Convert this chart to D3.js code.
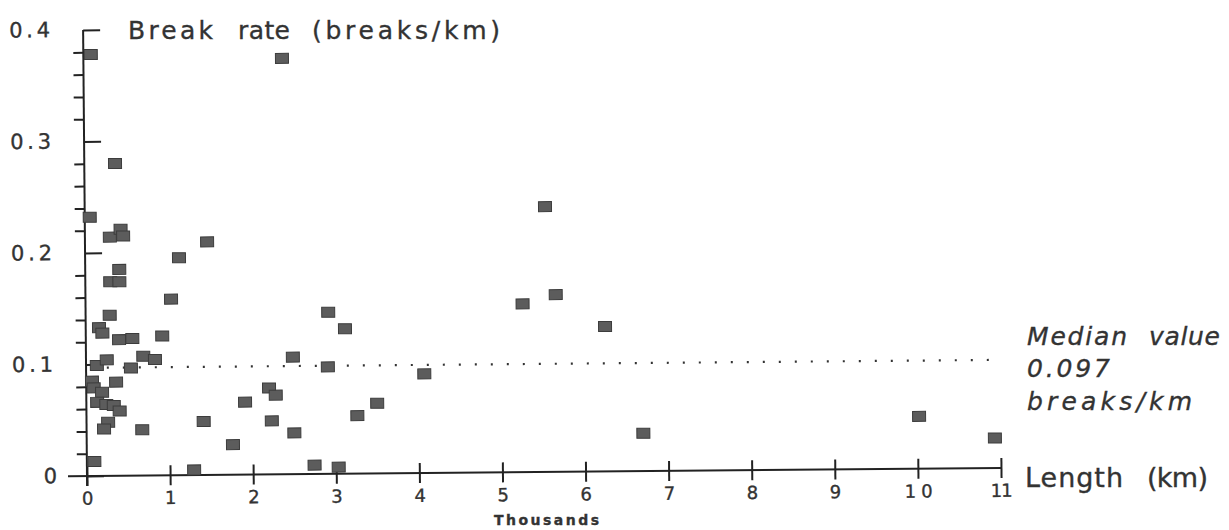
<!DOCTYPE html>
<html lang="en">
<head>
<meta charset="UTF-8">
<title>Break rate vs length</title>
<script src="https://d3js.org/d3.v7.min.js"></script>
<style>
  body { margin: 0; background: #fff; }
  text, .tick text { font-family: "DejaVu Sans", "Liberation Sans", sans-serif; fill: #333; stroke: #333; stroke-width: 0.35px; }
</style>
</head>
<body>
<svg width="1229" height="530"></svg>
<script>
// pipe length (thousands of km) and break rate (breaks/km)
const lengths = [
  0.09, 2.39, 0.37, 0.06, 0.30, 0.43, 0.46, 1.47, 1.13, 0.41,
  0.30, 0.41, 1.03, 0.29, 0.16, 0.20, 0.40, 0.56, 0.92, 2.49,
  0.13, 0.25, 0.54, 0.69, 0.83, 0.07, 0.09, 0.19, 0.36, 0.13,
  0.24, 0.33, 0.40, 0.26, 0.21, 0.67, 0.09, 1.29, 1.41, 1.76,
  1.91, 2.20, 2.28, 2.23, 2.50, 2.74, 3.03, 2.92, 3.12, 2.91,
  3.26, 3.50, 4.07, 5.26, 5.54, 5.66, 6.25, 6.70, 10.02, 10.93
];
const rates = [
  0.378, 0.373, 0.280, 0.232, 0.214, 0.221, 0.215, 0.209, 0.195, 0.185,
  0.174, 0.174, 0.158, 0.144, 0.133, 0.128, 0.122, 0.123, 0.125, 0.105,
  0.099, 0.104, 0.0965, 0.107, 0.104, 0.085, 0.079, 0.075, 0.084, 0.066,
  0.064, 0.063, 0.058, 0.048, 0.042, 0.041, 0.013, 0.0046, 0.048, 0.027,
  0.065, 0.0775, 0.071, 0.048, 0.037, 0.008, 0.006, 0.145, 0.130, 0.096,
  0.052, 0.063, 0.089, 0.151, 0.238, 0.159, 0.130, 0.034, 0.047, 0.027
];
const median = 0.097;
const medianFrom = 0.25, medianTo = 10.94;

const xTicks = d3.range(0, 12);
const yMajor = [0, 0.1, 0.2, 0.3, 0.4];
const yMinor = d3.range(0.02, 0.4, 0.02).filter(v => Math.abs(v * 10 - Math.round(v * 10)) > 1e-6);

const svg = d3.select("svg");
const x = d3.scaleLinear().domain([0, 11]).range([87, 1001]);
const y = d3.scaleLinear().domain([0, 0.4]).range([476, 30]);

// the scan is tilted a little, so the plot is too
const g = svg.append("g").attr("transform", `rotate(-0.5, ${x(0)}, ${y(0)})`);

// x axis
g.append("line")
  .attr("x1", x(0) - 19).attr("x2", x(11))
  .attr("y1", y(0)).attr("y2", y(0))
  .attr("stroke", "#222").attr("stroke-width", 2);

const xAxis = g.append("g")
  .attr("transform", `translate(0,${y(0)})`)
  .call(d3.axisBottom(x).tickValues(xTicks).tickSize(10).tickSizeOuter(0).tickPadding(6));
xAxis.select(".domain").remove();
xAxis.selectAll(".tick line").attr("y1", -10).attr("stroke", "#222").attr("stroke-width", 2);
xAxis.selectAll(".tick text")
  .attr("font-size", 18)
  .each(function(d) {
    if (d >= 10) d3.select(this).attr("textLength", d === 10 ? 28 : 22).attr("lengthAdjust", "spacing");
  });

// y axis
g.append("line")
  .attr("x1", x(0)).attr("x2", x(0))
  .attr("y1", y(0) + 10).attr("y2", y(0.4))
  .attr("stroke", "#222").attr("stroke-width", 2);

const yAxis = g.append("g")
  .attr("transform", `translate(${x(0)},0)`)
  .call(d3.axisLeft(y).tickValues(yMajor).tickSize(19).tickSizeOuter(0).tickPadding(14)
    .tickFormat(d => d === 0 ? "0" : d.toFixed(1)));
yAxis.select(".domain").remove();
yAxis.selectAll(".tick line").attr("x2", 17).attr("stroke", "#222").attr("stroke-width", 2);
yAxis.selectAll(".tick text")
  .attr("font-size", 21)
  .attr("dy", "0.3em")
  .each(function(d) {
    if (d > 0) d3.select(this).attr("textLength", 41).attr("lengthAdjust", "spacing");
    else d3.select(this).attr("x", -30);
  });

const yMinorAxis = g.append("g")
  .attr("transform", `translate(${x(0)},0)`)
  .call(d3.axisLeft(y).tickValues(yMinor).tickSize(10).tickFormat(""));
yMinorAxis.select(".domain").remove();
yMinorAxis.selectAll(".tick line").attr("stroke", "#222").attr("stroke-width", 2);

// median line
g.append("line")
  .attr("x1", x(medianFrom)).attr("x2", x(medianTo))
  .attr("y1", y(median)).attr("y2", y(median))
  .attr("stroke", "#333").attr("stroke-width", 2.2)
  .attr("stroke-dasharray", "2 14");

// points
const pts = lengths.map((l, i) => ({ l, r: rates[i] }));
g.selectAll("rect.pt")
  .data(pts)
  .enter()
  .append("rect")
  .attr("class", "pt")
  .attr("x", d => x(d.l) - 6.5)
  .attr("y", d => y(d.r) - 5)
  .attr("width", 13)
  .attr("height", 10)
  .attr("fill", "#5c5c5c")
  .attr("stroke", "#3c3c3c")
  .attr("stroke-width", 1);

// labels, word by word so the wide spacing of the original holds
function words(list, baseline, size, opts = {}) {
  list.forEach(([t, x0, x1]) => {
    svg.append("text")
      .attr("x", x0).attr("y", baseline)
      .attr("font-size", size)
      .attr("font-style", opts.italic ? "italic" : null)
      .attr("font-weight", opts.bold ? "bold" : null)
      .attr("textLength", x1 - x0).attr("lengthAdjust", "spacing")
      .text(t);
  });
}

words([["Break", 128, 213], ["rate", 238, 290], ["(breaks/km)", 312, 500]], 39, 25);
words([["Length", 1025, 1123], ["(km)", 1147, 1208]], 487, 27);
words([["Median", 1027, 1127], ["value", 1149, 1220]], 345, 25, { italic: true });
words([["0.097", 1027, 1110]], 377, 25, { italic: true });
words([["breaks/km", 1027, 1192]], 410, 25, { italic: true });
words([["Thousands", 494, 599]], 525, 14, { bold: true });
</script>
</body>
</html>
